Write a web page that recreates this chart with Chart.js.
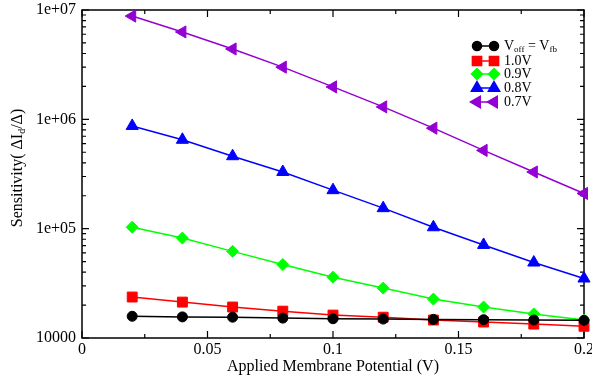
<!DOCTYPE html>
<html>
<head>
<meta charset="utf-8">
<script src="https://cdn.jsdelivr.net/npm/chart.js@4"></script>
<style>
html, body { margin: 0; padding: 0; background: #fff; }
</style>
</head>
<body>
<canvas id="myChart" width="592" height="380"></canvas>
<script>
// applied membrane potential (V)
var potential = [0.02, 0.04, 0.06, 0.08, 0.1, 0.12, 0.14, 0.16, 0.18, 0.2];

// sensitivity for each offset voltage
var sensVfb = [15800, 15600, 15500, 15200, 15000, 14900, 14800, 14700, 14600, 14500];
var sens10 = [23700, 21300, 19200, 17600, 16200, 15500, 14600, 14000, 13400, 12800];
var sens09 = [103000, 82000, 62000, 47000, 36000, 28600, 22700, 19200, 16600, 14600];
var sens08 = [870000, 650000, 460000, 330000, 225000, 154000, 103000, 71000, 49000, 35000];
var sens07 = [8800000, 6300000, 4400000, 3000000, 1980000, 1300000, 830000, 520000, 330000, 210000];

var xTickValues = [0, 0.05, 0.1, 0.15, 0.2];
var xTickLabels = ['0', '0.05', '0.1', '0.15', '0.2'];
var yTickValues = [10000, 100000, 1000000, 10000000];
var yTickLabels = ['10000', '1e+05', '1e+06', '1e+07'];

var serif = "'Liberation Serif', 'DejaVu Serif', serif";

function pts(ys) {
    return potential.map(function (x, i) { return {x: x, y: ys[i]}; });
}

function series(data, color, style, radius, rotation) {
    return {
        data: pts(data),
        borderColor: color,
        backgroundColor: color,
        borderWidth: 1.5,
        pointStyle: style,
        pointRadius: radius,
        pointHoverRadius: radius,
        pointRotation: rotation || 0,
        pointBorderWidth: 1,
        showLine: true,
        fill: false,
        clip: false
    };
}

var datasets = [
    series(sensVfb, '#000000', 'circle', 5),
    series(sens10, '#ff0000', 'rect', 7),
    series(sens09, '#00ff00', 'rectRot', 6),
    series(sens08, '#0000ff', 'triangle', 7),
    series(sens07, '#9400d3', 'triangle', 7, -90)
];

// legend text, pieces are [text, size, dy]
var legendLabels = [
    [['V', 14, 0], ['off', 9, 4], [' = V', 14, 0], ['fb', 9, 4]],
    [['1.0V', 14, 0]],
    [['0.9V', 14, 0]],
    [['0.8V', 14, 0]],
    [['0.7V', 14, 0]]
];
var legendRows = [46, 61, 74, 88, 102];

function drawPieces(ctx, pieces, x, y) {
    pieces.forEach(function (p) {
        ctx.font = p[1] + 'px ' + serif;
        ctx.fillText(p[0], x, y + p[2]);
        x += ctx.measureText(p[0]).width;
    });
}

var frame = {
    id: 'frame',
    beforeDatasetsDraw: function (chart) {
        var ctx = chart.ctx, a = chart.chartArea;
        var xs = chart.scales.x, ys = chart.scales.y;
        ctx.save();
        ctx.strokeStyle = '#000';
        ctx.lineWidth = 1.5;
        ctx.strokeRect(a.left, a.top, a.right - a.left, a.bottom - a.top);
        ctx.lineWidth = 1.2;
        ctx.beginPath();
        for (var i = 0; i <= 8; i++) {
            var px = xs.getPixelForValue(i * 0.025);
            var len = i % 2 ? 4 : 7;
            ctx.moveTo(px, a.bottom); ctx.lineTo(px, a.bottom - len);
            ctx.moveTo(px, a.top); ctx.lineTo(px, a.top + len);
        }
        for (var d = 4; d <= 7; d++) {
            for (var k = 1; k <= 9; k++) {
                if (d == 7 && k > 1) break;
                var py = ys.getPixelForValue(k * Math.pow(10, d));
                var l = k == 1 ? 7 : 4;
                ctx.moveTo(a.left, py); ctx.lineTo(a.left + l, py);
                ctx.moveTo(a.right, py); ctx.lineTo(a.right - l, py);
            }
        }
        ctx.stroke();
        ctx.restore();
    },
    afterDraw: function (chart) {
        var ctx = chart.ctx;
        ctx.save();
        ctx.fillStyle = '#000';
        ctx.textBaseline = 'middle';

        // legend
        legendLabels.forEach(function (lab, i) {
            var ds = chart.data.datasets[i], y = legendRows[i];
            ctx.strokeStyle = ds.borderColor;
            ctx.lineWidth = 1.5;
            ctx.beginPath(); ctx.moveTo(477, y); ctx.lineTo(494, y); ctx.stroke();
            ctx.fillStyle = ds.backgroundColor;
            [477, 494].forEach(function (x) {
                Chart.helpers.drawPoint(ctx, {
                    pointStyle: ds.pointStyle, radius: ds.pointRadius - 0.5,
                    rotation: ds.pointRotation, borderWidth: 1
                }, x, y);
            });
            ctx.fillStyle = '#000';
            drawPieces(ctx, lab, 504, y);
        });

        // y axis title
        var title = [['Sensitivity( \u0394I', 16, 0], ['d', 10, 4], ['/\u0394)', 16, 0]];
        var w = 0;
        title.forEach(function (p) { ctx.font = p[1] + 'px ' + serif; w += ctx.measureText(p[0]).width; });
        ctx.translate(18, 168);
        ctx.rotate(-Math.PI / 2);
        drawPieces(ctx, title, -w / 2, 0);
        ctx.restore();
    }
};

var ctx = document.getElementById('myChart').getContext('2d');
var chart = new Chart(ctx, {
    type: 'scatter',
    data: { datasets: datasets },
    plugins: [frame],
    options: {
        responsive: false,
        animation: false,
        devicePixelRatio: 1,
        layout: { padding: { top: 10, right: 8, left: 0, bottom: 0 } },
        plugins: { legend: { display: false }, tooltip: { enabled: false } },
        scales: {
            x: {
                type: 'linear', min: 0, max: 0.2,
                grid: { display: false, drawTicks: false },
                border: { display: false },
                afterBuildTicks: function (s) { s.ticks = xTickValues.map(function (v) { return {value: v}; }); },
                ticks: {
                    callback: function (v, i) { return xTickLabels[i]; },
                    color: '#000', font: { family: serif, size: 16 },
                    padding: 2, maxRotation: 0, autoSkip: false
                },
                title: {
                    display: true, text: 'Applied Membrane Potential (V)',
                    color: '#000', font: { family: serif, size: 16 },
                    padding: { top: 0, bottom: 4 }
                },
                afterFit: function (s) { s.paddingLeft = 0; s.paddingRight = 0; s.height = 42; }
            },
            y: {
                type: 'logarithmic', min: 10000, max: 10000000,
                grid: { display: false, drawTicks: false },
                border: { display: false },
                afterBuildTicks: function (s) { s.ticks = yTickValues.map(function (v) { return {value: v}; }); },
                ticks: {
                    callback: function (v, i) { return yTickLabels[i]; },
                    color: '#000', font: { family: serif, size: 16 },
                    padding: 6, autoSkip: false
                },
                afterFit: function (s) { s.width = 82; s.paddingTop = 0; s.paddingBottom = 0; }
            }
        }
    }
});
</script>
</body>
</html>
